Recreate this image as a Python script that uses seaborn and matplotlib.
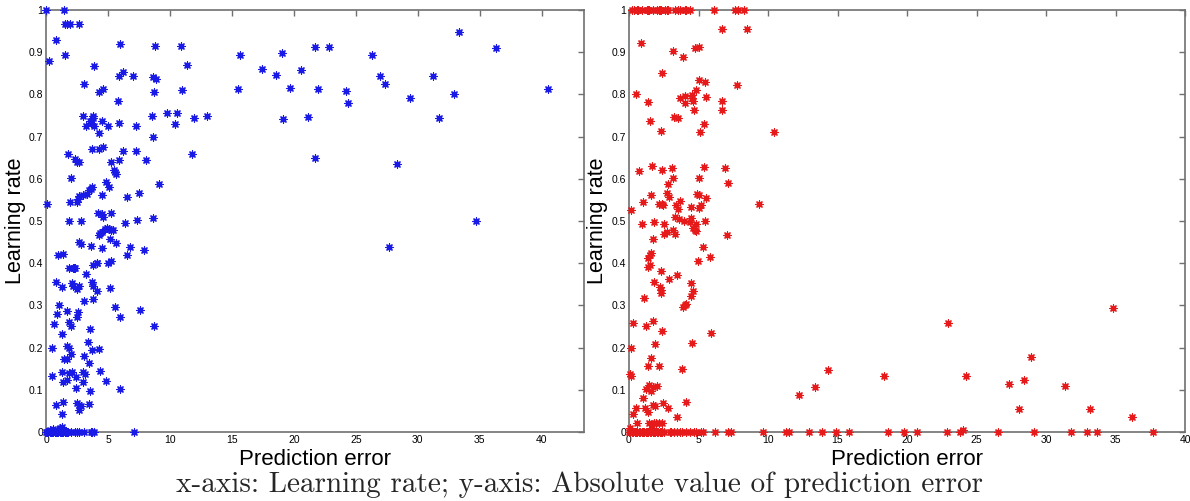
import matplotlib
matplotlib.use("Agg")
import numpy as np
import pandas as pd
import matplotlib.pyplot as plt
import seaborn as sns

# ---------------- data ----------------
left_error = [
    0.0, 1.45, 1.55, 1.7, 1.9, 2.66, 0.8, 0.27, 1.53,
    5.97, 8.8, 10.86, 11.4, 11.0, 3.9, 5.9, 6.24, 7.04, 8.6, 8.87, 8.74,
    3.09, 4.3, 4.62, 5.78,
    3.0, 3.76, 3.82, 3.55, 3.6, 3.2, 3.9, 4.49, 5.03, 5.91, 7.23, 8.57, 9.78, 10.6, 10.4, 11.96, 12.96,
    4.27, 8.6, 1.77, 3.74, 4.27, 4.57, 6.18, 7.23, 11.8,
    2.34, 2.53, 2.69, 5.24, 5.88, 8.06, 2.0, 5.48, 5.56, 5.65,
    3.5, 3.6, 3.7, 3.3, 3.0, 2.66, 2.6, 2.5, 1.94, 0.05, 4.84, 5.1, 4.54, 6.5, 7.53, 9.14,
    4.22, 4.49, 4.62, 5.24, 1.88, 2.8, 6.37, 7.37, 8.6,
    4.27, 4.35, 4.49, 4.76, 4.9, 5.08, 5.24, 5.43, 5.16, 5.65, 2.69, 2.82, 3.6, 4.49, 6.77, 7.9, 6.56, 0.99, 1.34,
    3.76, 4.09, 4.14, 5.03, 5.24, 1.88, 2.2, 2.28, 2.34, 3.2,
    0.8, 1.26, 2.07, 2.2, 2.47, 2.69, 3.68, 3.76, 4.14, 5.16,
    1.05, 3.09, 3.82, 5.56, 0.91, 1.67, 2.6, 2.47, 5.97, 7.58, 8.74,
    0.65, 1.88, 2.0, 3.55, 1.26, 0.46, 1.72, 1.88, 2.0, 3.41, 3.68, 4.3, 3.09, 3.5, 1.45, 1.67,
    0.46, 1.26, 1.67, 2.07, 1.88, 2.42, 1.4, 2.96, 3.15, 3.0, 4.35, 4.84, 5.97, 2.42, 3.55,
    0.8, 1.34, 1.3, 2.47, 2.66, 2.8, 2.69, 3.47, 1.26, 1.13, 0.54, 0.9, 0.3,
    0.0, 0.1, 0.2, 0.3, 0.4, 0.5, 0.6, 0.7, 0.8, 0.9, 1.0, 1.1, 1.2, 1.3, 1.4, 1.5, 1.6, 1.7, 1.8, 2.0,
    2.3, 2.5, 2.7, 3.1, 3.6, 3.7, 3.9, 7.1,
    15.46, 15.65, 17.45, 18.52, 19.0, 19.09, 21.7, 22.82, 26.27, 33.33, 36.27, 20.57, 19.68, 21.96,
    24.19, 24.38, 26.93, 27.34, 29.35, 31.24, 32.93, 31.72, 21.16, 40.5, 21.7, 28.28, 34.67, 27.66,
]
left_rate = [
    1.0, 1.0, 0.967, 0.967, 0.968, 0.967, 0.929, 0.878, 0.893,
    0.919, 0.914, 0.915, 0.87, 0.81, 0.867, 0.844, 0.854, 0.844, 0.842, 0.836, 0.805,
    0.824, 0.805, 0.813, 0.784,
    0.748, 0.748, 0.745, 0.736, 0.733, 0.725, 0.724, 0.736, 0.724, 0.733, 0.725, 0.75, 0.755, 0.755, 0.729, 0.743, 0.749,
    0.708, 0.7, 0.658, 0.671, 0.671, 0.676, 0.667, 0.667, 0.658,
    0.647, 0.64, 0.64, 0.64, 0.645, 0.645, 0.603, 0.62, 0.615, 0.612,
    0.573, 0.577, 0.58, 0.565, 0.562, 0.56, 0.553, 0.545, 0.544, 0.54, 0.593, 0.58, 0.562, 0.558, 0.567, 0.588,
    0.52, 0.516, 0.51, 0.52, 0.5, 0.5, 0.496, 0.502, 0.508,
    0.467, 0.471, 0.475, 0.482, 0.484, 0.481, 0.479, 0.479, 0.457, 0.447, 0.451, 0.445, 0.441, 0.435, 0.439, 0.431, 0.419, 0.42, 0.421,
    0.396, 0.401, 0.4, 0.4, 0.405, 0.388, 0.388, 0.388, 0.388, 0.374,
    0.356, 0.344, 0.354, 0.346, 0.34, 0.346, 0.356, 0.346, 0.334, 0.342,
    0.302, 0.31, 0.314, 0.297, 0.279, 0.287, 0.285, 0.273, 0.273, 0.29, 0.251,
    0.255, 0.261, 0.251, 0.243, 0.232, 0.198, 0.204, 0.2, 0.184, 0.214, 0.194, 0.196, 0.179, 0.164, 0.173, 0.173,
    0.133, 0.143, 0.123, 0.143, 0.139, 0.13, 0.118, 0.141, 0.137, 0.118, 0.145, 0.121, 0.103, 0.105, 0.097,
    0.064, 0.072, 0.042, 0.068, 0.064, 0.062, 0.052, 0.066, 0.013, 0.009, 0.006, 0.005, 0.004,
    0.0, 0.0, 0.0, 0.0, 0.0, 0.0, 0.0, 0.0, 0.0, 0.0, 0.0, 0.0, 0.0, 0.0, 0.0, 0.0, 0.0, 0.0, 0.0, 0.0,
    0.0, 0.0, 0.0, 0.0, 0.0, 0.0, 0.0, 0.0,
    0.812, 0.893, 0.861, 0.846, 0.897, 0.742, 0.912, 0.913, 0.893, 0.947, 0.91, 0.858, 0.815, 0.812,
    0.807, 0.779, 0.844, 0.824, 0.791, 0.844, 0.801, 0.743, 0.747, 0.812, 0.649, 0.635, 0.5, 0.438,
]

right_error = [
    0.19, 0.36, 0.55, 0.62, 0.67, 0.91, 1.26, 1.34, 1.46, 1.74, 2.03, 2.15, 2.22, 2.27, 2.58, 2.7, 2.77,
    3.29, 3.53, 3.65, 4.01, 4.13, 4.37, 6.11, 7.66, 7.83, 8.26,
    6.68, 8.47, 0.86, 3.13, 3.89, 4.73, 5.04, 2.41, 5.01, 5.44, 7.76,
    0.48, 1.34, 3.7, 4.01, 4.53, 4.56, 4.61, 4.8, 4.06, 5.56, 6.71, 6.68, 4.65,
    1.5, 3.25, 3.53, 5.39, 2.29, 5.08, 10.45,
    0.74, 1.62, 2.41, 3.1, 3.13, 5.37, 6.92, 7.11, 5.01,
    1.58, 1.03, 2.7, 2.89, 2.82, 3.65, 2.15, 2.34, 2.46, 3.37, 3.53, 4.44, 4.89, 5.01, 5.2, 5.04, 5.56, 9.33, 0.12,
    0.95, 1.81, 2.53, 3.29, 3.6, 3.94, 4.49, 4.37, 4.84, 5.44,
    1.74, 7.04, 2.53, 2.7, 3.13, 3.29, 4.6, 4.73, 4.84, 5.32, 5.8, 4.96,
    1.58, 1.5, 1.38, 1.5, 1.38, 2.27, 2.89, 3.46, 1.81, 2.22, 2.29, 2.29, 4.49, 4.6, 4.44, 3.89, 4.06, 4.13,
    1.07, 0.26, 1.22, 1.74, 2.39, 5.87, 1.86, 4.56, 0.14, 1.55, 1.34, 2.15, 3.82, 0.07, 0.14,
    1.46, 1.74, 1.98, 1.22, 1.55, 0.98, 1.15, 1.38, 1.74, 1.86, 2.46, 2.77, 4.13, 0.48, 0.31, 0.6, 3.46,
    1.46, 1.81, 1.93, 2.17, 2.34, 1.62, 0.07, 24.05,
    0.0, 0.1, 0.2, 0.3, 0.4, 0.5, 0.6, 0.7, 0.8, 0.9, 1.0, 1.1, 1.2, 1.3, 1.4, 1.5, 1.6, 1.7, 1.8, 1.9,
    2.0, 2.1, 2.2, 2.3, 2.4, 2.5, 2.94, 3.05, 3.25, 3.46, 3.65, 3.84, 4.13, 4.37, 4.65, 4.84, 5.16, 5.32,
    6.16, 7.11, 7.35, 9.62, 11.29, 11.53, 12.97, 13.92, 14.88, 15.83, 18.6, 19.78, 20.69, 22.9, 23.81,
    26.52, 29.14, 31.77, 32.93, 33.69, 37.68,
    12.25, 13.4, 14.33, 18.34, 22.97, 24.24, 34.8, 27.34, 28.42, 28.9, 31.37, 28.08, 33.14, 36.16,
]
right_rate = [
    1.0, 1.0, 1.0, 1.0, 1.0, 1.0, 1.0, 1.0, 1.0, 1.0, 1.0, 1.0, 1.0, 1.0, 1.0, 1.0, 1.0,
    1.0, 1.0, 1.0, 1.0, 1.0, 1.0, 1.0, 1.0, 1.0, 1.0,
    0.954, 0.954, 0.921, 0.903, 0.889, 0.909, 0.912, 0.85, 0.833, 0.83, 0.822,
    0.801, 0.781, 0.792, 0.797, 0.799, 0.791, 0.784, 0.81, 0.779, 0.793, 0.784, 0.763, 0.763,
    0.737, 0.746, 0.743, 0.729, 0.713, 0.712, 0.712,
    0.619, 0.63, 0.622, 0.625, 0.603, 0.627, 0.625, 0.589, 0.603,
    0.562, 0.544, 0.566, 0.558, 0.587, 0.547, 0.54, 0.54, 0.539, 0.538, 0.528, 0.532, 0.563, 0.562, 0.538, 0.53, 0.554, 0.54, 0.526,
    0.492, 0.498, 0.492, 0.51, 0.504, 0.5, 0.508, 0.498, 0.494, 0.5,
    0.457, 0.467, 0.469, 0.475, 0.479, 0.469, 0.483, 0.479, 0.476, 0.438, 0.415, 0.406,
    0.425, 0.419, 0.413, 0.396, 0.392, 0.382, 0.363, 0.372, 0.356, 0.344, 0.337, 0.33, 0.352, 0.333, 0.322, 0.297, 0.301, 0.303,
    0.318, 0.258, 0.251, 0.263, 0.239, 0.234, 0.208, 0.212, 0.198, 0.175, 0.157, 0.157, 0.149, 0.137, 0.133,
    0.111, 0.107, 0.11, 0.102, 0.098, 0.081, 0.056, 0.047, 0.064, 0.062, 0.068, 0.058, 0.072, 0.058, 0.043, 0.021, 0.036,
    0.021, 0.021, 0.021, 0.021, 0.021, 0.01, 0.009, 0.004,
    0.0, 0.0, 0.0, 0.0, 0.0, 0.0, 0.0, 0.0, 0.0, 0.0, 0.0, 0.0, 0.0, 0.0, 0.0, 0.0, 0.0, 0.0, 0.0, 0.0,
    0.0, 0.0, 0.0, 0.0, 0.0, 0.0, 0.0, 0.0, 0.0, 0.0, 0.0, 0.0, 0.0, 0.0, 0.0, 0.0, 0.0, 0.0,
    0.0, 0.0, 0.0, 0.0, 0.0, 0.0, 0.0, 0.0, 0.0, 0.0, 0.0, 0.0, 0.0, 0.0, 0.0,
    0.0, 0.0, 0.0, 0.0, 0.0, 0.0,
    0.088, 0.106, 0.147, 0.133, 0.258, 0.133, 0.293, 0.114, 0.123, 0.177, 0.109, 0.054, 0.054, 0.036,
]

x_ticks = [0, 5, 10, 15, 20, 25, 30, 35, 40]
y_ticks = [0, 0.1, 0.2, 0.3, 0.4, 0.5, 0.6, 0.7, 0.8, 0.9, 1]
y_tick_labels = ["0", "0.1", "0.2", "0.3", "0.4", "0.5", "0.6", "0.7", "0.8", "0.9", "1"]
x_label = "Prediction error"
y_label = "Learning rate"
caption = "x-axis: Learning rate; y-axis: Absolute value of prediction error"

assert len(left_error) == len(left_rate), (len(left_error), len(left_rate))
assert len(right_error) == len(right_rate), (len(right_error), len(right_rate))

left_df = pd.DataFrame({"error": left_error, "rate": left_rate})
right_df = pd.DataFrame({"error": right_error, "rate": right_rate})

# ---------------- drawing ----------------
sns.set_theme(style="white")
plt.rcParams["font.family"] = ["Liberation Sans", "DejaVu Sans"]

W, H = 1190, 501
fig = plt.figure(figsize=(W / 100, H / 100), dpi=100)
ax1 = fig.add_axes([46 / W, 1 - 432 / H, 538 / W, 422 / H])
ax2 = fig.add_axes([629 / W, 1 - 432 / H, 556 / W, 422 / H])

star = (8, 2, 0)
sns.scatterplot(data=left_df, x="error", y="rate", ax=ax1, marker=star, s=26,
                color="#1a1ae6", linewidth=0.9, clip_on=False, zorder=3)
sns.scatterplot(data=right_df, x="error", y="rate", ax=ax2, marker=star, s=26,
                color="#e61a1a", linewidth=0.9, clip_on=False, zorder=3)

for ax, xmax in ((ax1, 43.4), (ax2, 40.0)):
    ax.set_xlim(0, xmax)
    ax.set_ylim(0, 1)
    ax.set_xticks(x_ticks)
    ax.set_xticklabels([str(t) for t in x_ticks])
    ax.set_yticks(y_ticks)
    ax.set_yticklabels(y_tick_labels)
    ax.tick_params(direction="in", length=4, width=1, top=True, right=True,
                   labelsize=7.5, color="#707070", labelcolor="black", pad=2)
    for sp in ax.spines.values():
        sp.set_color("#707070")
        sp.set_linewidth(1.2)
    ax.set_xlabel(x_label, fontsize=16, color="black")
    ax.set_ylabel(y_label, fontsize=15.5, color="black")
    ax.xaxis.label.set_va("center")
    ax.yaxis.label.set_va("center")
    ax.set_facecolor("white")

ax1.xaxis.set_label_coords(0.5, -0.065)
ax2.xaxis.set_label_coords(0.5, -0.065)
ax1.yaxis.set_label_coords(-0.057, 0.5)
ax2.yaxis.set_label_coords(-0.056, 0.5)

fig.text(579 / W, 1 - 485 / H, caption, ha="center", va="center",
         family="cmr10", fontsize=21)

fig.savefig("out.png", dpi=100, facecolor="white")
